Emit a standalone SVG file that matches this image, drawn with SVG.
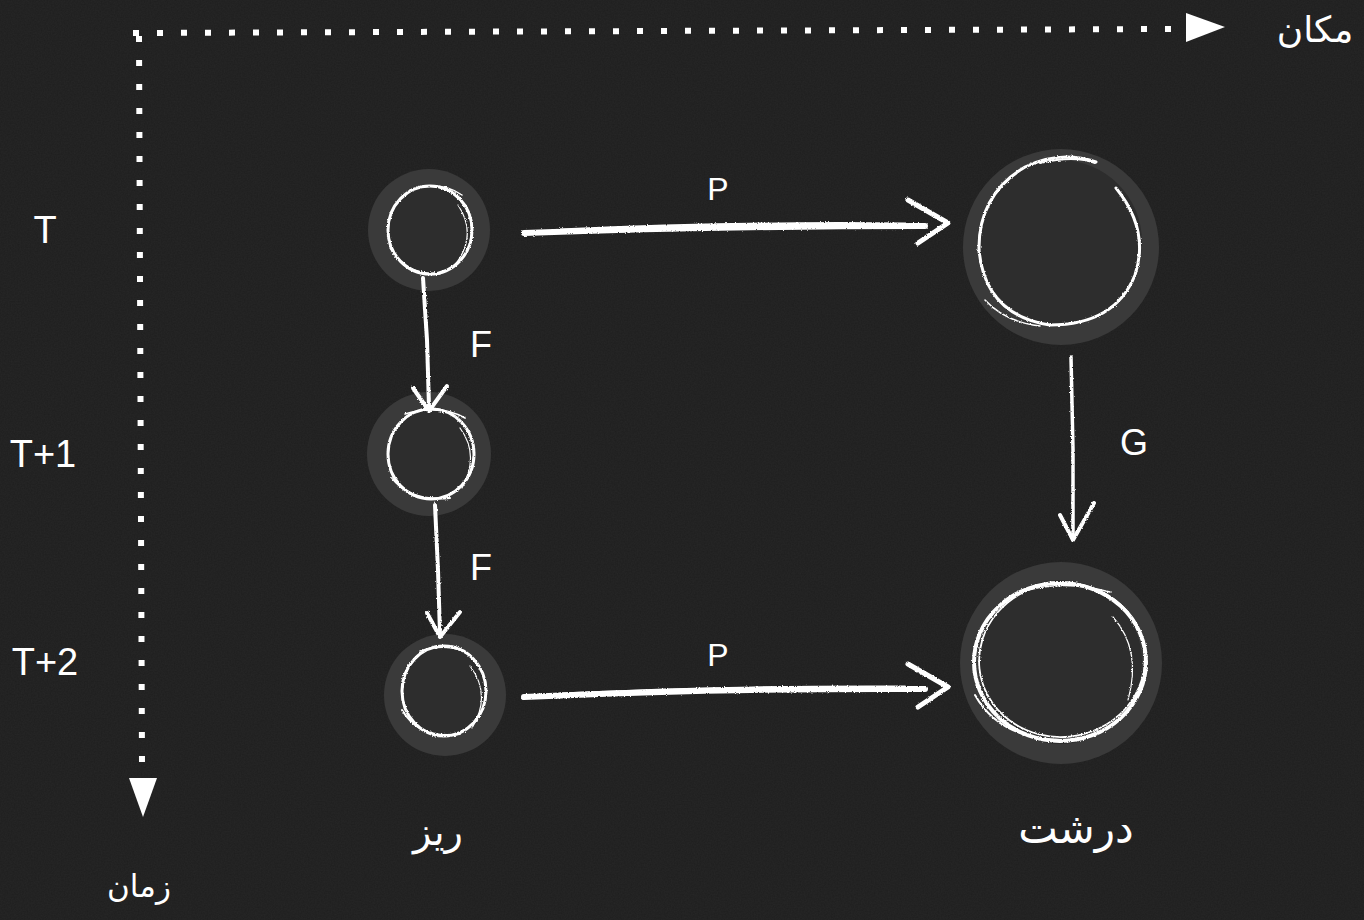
<svg xmlns="http://www.w3.org/2000/svg" width="1364" height="920" viewBox="0 0 1364 920">
  <defs>
    <filter id="chalk" x="-20%" y="-20%" width="140%" height="140%">
      <feTurbulence type="fractalNoise" baseFrequency="0.8" numOctaves="2" seed="3" result="n"/>
      <feDisplacementMap in="SourceGraphic" in2="n" scale="2.5" xChannelSelector="R" yChannelSelector="G"/>
    </filter>
    <filter id="grain" x="0" y="0" width="100%" height="100%">
      <feTurbulence type="fractalNoise" baseFrequency="0.7" numOctaves="2" seed="7" result="t"/>
      <feColorMatrix in="t" type="matrix" values="0 0 0 0 1  0 0 0 0 1  0 0 0 0 1  0 0 0 0.04 0"/>
    </filter>
    <style>
      .halo { fill: #3a3a3a; }
      .inner { fill: #2d2d2d; }
      .ch { fill: none; stroke: #ffffff; stroke-linecap: round; stroke-linejoin: round; }
      .lbl { font-family: "Liberation Sans", "DejaVu Sans", sans-serif; fill: #ffffff; text-anchor: middle; }
      .fa { font-family: "DejaVu Sans", "Noto Sans", sans-serif; fill: #ffffff; text-anchor: middle; }
      .dots { stroke: #ffffff; stroke-width: 6; stroke-dasharray: 6 18; fill: none; }
    </style>
  </defs>

  <rect width="1364" height="920" fill="#1e1e1e"/>
  <rect width="1364" height="920" filter="url(#grain)"/>

  <g id="axes">
    <line class="dots" x1="133" y1="33" x2="1172" y2="29"/>
    <polygon points="1186,13 1186,42 1225,27" fill="#ffffff"/>
    <line class="dots" x1="139" y1="36" x2="142" y2="763"/>
    <polygon points="129,778 157,778 143,817" fill="#ffffff"/>
    <text class="fa" x="1315" y="42" font-size="36">مکان</text>
    <text class="fa" x="139" y="897" font-size="31">زمان</text>
  </g>

  <g id="time-labels">
    <text class="lbl" x="45" y="243" font-size="38">T</text>
    <text class="lbl" x="43" y="467" font-size="38">T+1</text>
    <text class="lbl" x="45" y="675" font-size="38">T+2</text>
  </g>

  <g id="fine-T">
    <circle class="halo" cx="429" cy="230" r="61"/>
    <circle class="inner" cx="430" cy="230" r="43"/>
    <g filter="url(#chalk)">
      <ellipse class="ch" cx="430" cy="230" rx="42" ry="44" stroke-width="3"/>
      <path class="ch" d="M410,190 Q440,180 462,195" stroke-width="1.5"/>
      <path class="ch" d="M458,205 Q478,235 455,265" stroke-width="1.2"/>
      <path class="ch" d="M390,248 Q405,275 440,274" stroke-width="1.5"/>
    </g>
  </g>

  <g id="fine-T1">
    <circle class="halo" cx="429" cy="454" r="62"/>
    <circle class="inner" cx="431" cy="454" r="44"/>
    <g filter="url(#chalk)">
      <ellipse class="ch" cx="431" cy="454" rx="43" ry="45" stroke-width="3"/>
      <path class="ch" d="M405,414 Q440,404 465,418" stroke-width="1.5"/>
      <path class="ch" d="M460,428 Q480,455 462,488" stroke-width="1.2"/>
      <path class="ch" d="M392,478 Q410,502 450,498" stroke-width="2"/>
    </g>
  </g>

  <g id="fine-T2">
    <circle class="halo" cx="445" cy="695" r="61"/>
    <circle class="inner" cx="444" cy="691" r="43"/>
    <g filter="url(#chalk)">
      <ellipse class="ch" cx="444" cy="691" rx="42" ry="45" stroke-width="3"/>
      <path class="ch" d="M420,651 Q450,642 470,655" stroke-width="1.5"/>
      <path class="ch" d="M470,666 Q492,695 472,728" stroke-width="1.2"/>
      <path class="ch" d="M402,710 Q420,740 460,734" stroke-width="2"/>
    </g>
  </g>

  <g id="coarse-T">
    <circle class="halo" cx="1061" cy="247" r="98"/>
    <circle class="inner" cx="1060" cy="242" r="82"/>
    <g filter="url(#chalk)">
      <path class="ch" d="M1096,162 Q1060,150 1025,167 Q978,195 979,250 Q985,315 1050,325 Q1115,325 1135,275 Q1150,230 1116,188" stroke-width="3"/>
      <path class="ch" d="M1040,163 Q1075,155 1095,163" stroke-width="2"/>
      <path class="ch" d="M985,300 Q1005,322 1040,326" stroke-width="1.5"/>
    </g>
  </g>

  <g id="coarse-T2">
    <circle class="halo" cx="1061" cy="663" r="101"/>
    <circle class="inner" cx="1060" cy="662" r="82"/>
    <g filter="url(#chalk)">
      <ellipse class="ch" cx="1060" cy="662" rx="86" ry="79" stroke-width="4"/>
      <ellipse class="ch" cx="1062" cy="660" rx="83" ry="77" stroke-width="1.8" transform="rotate(-6 1062 660)"/>
      <path class="ch" d="M1015,594 Q1060,578 1110,592" stroke-width="1.5"/>
      <path class="ch" d="M1113,617 Q1142,650 1128,700" stroke-width="1.2"/>
      <path class="ch" d="M975,695 Q1000,740 1065,740" stroke-width="2"/>
    </g>
  </g>

  <g id="connectors" filter="url(#chalk)">
    <g id="p-top">
      <path class="ch" d="M524,233 Q720,226 925,226" stroke-width="6"/>
      <path class="ch" d="M560,230 Q740,222 905,224" stroke-width="3"/>
      <path class="ch" d="M908,200 L948,223 L918,243" stroke-width="5"/>
    </g>
    <g id="p-bottom">
      <path class="ch" d="M524,697 Q720,688 925,689" stroke-width="6"/>
      <path class="ch" d="M560,694 Q740,686 905,687" stroke-width="3"/>
      <path class="ch" d="M908,664 L948,687 L918,707" stroke-width="5"/>
    </g>
    <g id="f-1">
      <path class="ch" d="M423,278 L427,340 L429,407" stroke-width="4"/>
      <path class="ch" d="M413,388 L429,411 L447,386" stroke-width="4"/>
    </g>
    <g id="f-2">
      <path class="ch" d="M435,505 L438,570 L440,634" stroke-width="4"/>
      <path class="ch" d="M427,613 L440,637 L460,612" stroke-width="4"/>
    </g>
    <g id="g-1">
      <path class="ch" d="M1071,357 L1073,450 L1073,535" stroke-width="3.5"/>
      <path class="ch" d="M1060,515 L1073,540 L1094,503" stroke-width="4"/>
    </g>
  </g>

  <g id="edge-labels">
    <text class="lbl" x="718" y="200" font-size="32">P</text>
    <text class="lbl" x="718" y="666" font-size="32">P</text>
    <text class="lbl" x="481" y="357" font-size="36">F</text>
    <text class="lbl" x="481" y="580" font-size="36">F</text>
    <text class="lbl" x="1134" y="455" font-size="36">G</text>
  </g>

  <g id="scale-labels">
    <text class="fa" x="438" y="845" font-size="38">ریز</text>
    <text class="fa" x="1076" y="843" font-size="42">درشت</text>
  </g>
</svg>
